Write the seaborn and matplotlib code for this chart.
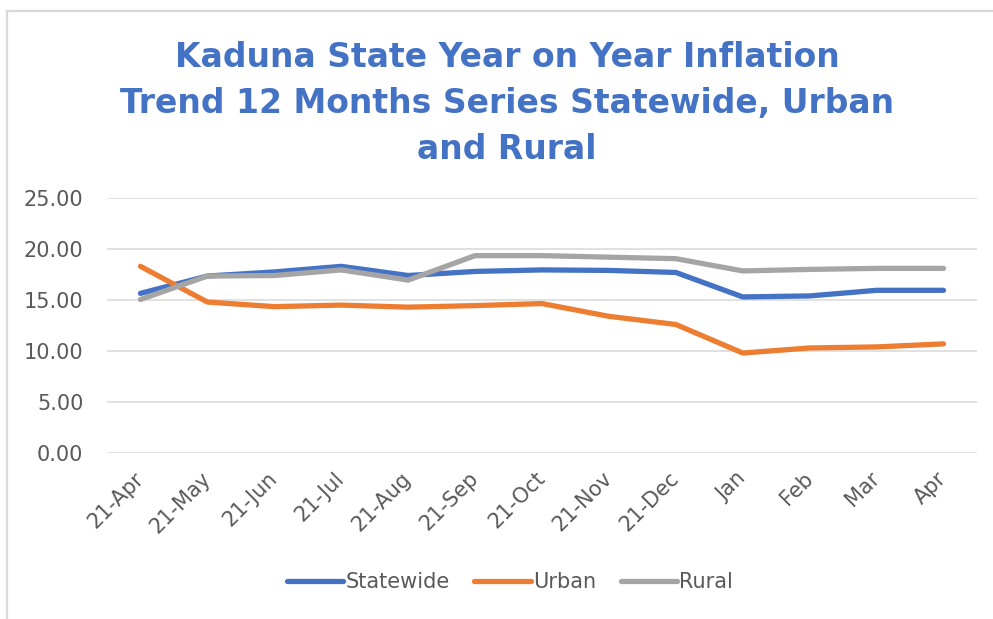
import numpy as np
import pandas as pd
import matplotlib
matplotlib.use("Agg")
import matplotlib.pyplot as plt
from matplotlib.lines import Line2D
import seaborn as sns

months = ["21-Apr", "21-May", "21-Jun", "21-Jul", "21-Aug", "21-Sep", "21-Oct",
          "21-Nov", "21-Dec", "Jan", "Feb", "Mar", "Apr"]
statewide = [15.65, 17.35, 17.75, 18.3, 17.4, 17.8, 17.95, 17.9, 17.7, 15.3, 15.4, 15.95, 15.95]
urban = [18.3, 14.8, 14.35, 14.5, 14.3, 14.45, 14.65, 13.4, 12.6, 9.8, 10.3, 10.4, 10.7]
rural = [15.05, 17.35, 17.4, 17.95, 16.95, 19.35, 19.35, 19.2, 19.05, 17.85, 18.0, 18.1, 18.1]
series_names = ["Statewide", "Urban", "Rural"]
colors = ["#4472C4", "#ED7D31", "#A5A5A5"]

df = pd.DataFrame({
    "month": months * 3,
    "value": statewide + urban + rural,
    "series": np.repeat(series_names, len(months)),
})

sns.set_style("white")
plt.rcParams["font.family"] = ["DejaVu Sans"]

W, H = 993, 619
fig = plt.figure(figsize=(W / 100, H / 100), dpi=100)
ax = fig.add_axes([107 / W, 1 - 453 / H, (977 - 107) / W, (453 - 198) / H])

sns.lineplot(data=df, x="month", y="value", hue="series", palette=colors,
             hue_order=series_names, sort=False, linewidth=3.8, ax=ax, legend=False)
for ln in ax.lines:
    ln.set_solid_capstyle("round")
    ln.set_solid_joinstyle("round")

ax.set_xlim(-0.5, len(months) - 0.5)
ax.set_ylim(0, 25)
ax.set_yticks(np.arange(0, 26, 5))
ax.set_yticklabels([f"{v:.2f}" for v in np.arange(0, 26, 5)])
ax.set_xlabel("")
ax.set_ylabel("")
ax.yaxis.grid(True, color="#D9D9D9", linewidth=1.1)
ax.set_axisbelow(True)
for s in ax.spines.values():
    s.set_visible(False)
ax.tick_params(axis="both", length=0, labelcolor="#595959", labelsize=15)
ax.tick_params(axis="y", pad=17)
ax.tick_params(axis="x", pad=16)
for lbl in ax.get_xticklabels():
    lbl.set_rotation(45)
    lbl.set_ha("right")
    lbl.set_va("center")
    lbl.set_rotation_mode("anchor")

title_lines = ["Kaduna State Year on Year Inflation",
               "Trend 12 Months Series Statewide, Urban",
               "and Rural"]
for i, t in enumerate(title_lines):
    fig.text(507 / W, 1 - (67 + 46 * i) / H, t, ha="center", va="baseline",
             fontsize=23.8, fontweight="bold", color="#4472C4")

handles = [Line2D([], [], color=c, linewidth=3.8, solid_capstyle="round") for c in colors]
fig.legend(handles, series_names, loc="center", bbox_to_anchor=(510 / W, 1 - 582 / H),
           ncol=3, frameon=False, fontsize=15, handlelength=2.7, handletextpad=0.1,
           columnspacing=1.2, labelcolor="#595959")

fig.add_artist(Line2D([7 / W, 7 / W], [0, 1 - 10.5 / H], color="#D9D9D9", linewidth=1.6))
fig.add_artist(Line2D([7 / W, 1], [1 - 10.5 / H, 1 - 10.5 / H], color="#D9D9D9", linewidth=1.6))

fig.savefig("out.png", dpi=100, facecolor="white")
